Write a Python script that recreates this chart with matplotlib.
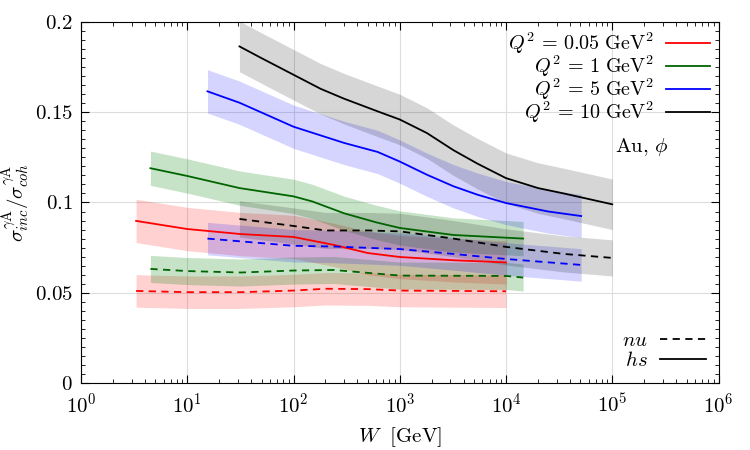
import matplotlib
matplotlib.use("Agg")
import matplotlib.pyplot as plt
from matplotlib.ticker import FuncFormatter, MultipleLocator, LogLocator
from matplotlib.lines import Line2D

plt.rcParams['font.family'] = 'cmr10'
plt.rcParams['mathtext.fontset'] = 'cm'
plt.rcParams['axes.formatter.use_mathtext'] = True

# W [GeV] and ratio values
w_red_hs = [3.3, 10, 32, 100, 240, 500, 1000, 3200, 10000]
red_hs = [0.0898, 0.0853, 0.0825, 0.0809, 0.0765, 0.0720, 0.0698, 0.0680, 0.0668]
w_red_nu = [3.3, 10, 32, 100, 200, 500, 1000, 3200, 10000]
red_nu = [0.0510, 0.0503, 0.0503, 0.0512, 0.0522, 0.0520, 0.0512, 0.0510, 0.0508]

w_green_hs = [4.5, 10, 31, 100, 150, 300, 600, 1000, 3200, 10000, 14500]
green_hs = [0.1190, 0.1147, 0.1080, 0.1034, 0.1006, 0.0940, 0.0890, 0.0859, 0.0820, 0.0805, 0.0800]
w_green_nu = [4.5, 10, 32, 100, 240, 1000, 3200, 10000, 14500]
green_nu = [0.0632, 0.0620, 0.0612, 0.0623, 0.0626, 0.0595, 0.0594, 0.0593, 0.0584]

w_blue_hs = [15.5, 31, 100, 300, 620, 1000, 1800, 3200, 5400, 10000, 25000, 51000]
blue_hs = [0.1616, 0.1553, 0.1420, 0.1330, 0.1280, 0.1227, 0.1154, 0.1090, 0.1043, 0.0997,
           0.0950, 0.0925]
w_blue_nu = [15.5, 100, 240, 1000, 3200, 10000, 51000]
blue_nu = [0.0800, 0.0760, 0.0756, 0.0742, 0.0715, 0.0687, 0.0654]

w_black_hs = [31, 50, 100, 180, 300, 620, 1000, 1800, 3200, 5400, 10000, 20000, 35000, 100000]
black_hs = [0.1865, 0.1800, 0.1708, 0.1630, 0.1575, 0.1505, 0.1460, 0.1385, 0.1290, 0.1215,
            0.1135, 0.1080, 0.1050, 0.0990]
w_black_nu = [31, 100, 200, 500, 1000, 3200, 10000, 35000, 100000]
black_nu = [0.0909, 0.0870, 0.0845, 0.0845, 0.0840, 0.0800, 0.0754, 0.0715, 0.0693]

# half widths of the uncertainty bands
band_hs = [0.012, 0.0095, 0.012, 0.014]
band_nu = [0.009, 0.0075, 0.009, 0.010]

labels = [r'$Q^2\,=\,0.05\ \mathrm{GeV}^2$', r'$Q^2\,=\,1\ \mathrm{GeV}^2$',
          r'$Q^2\,=\,5\ \mathrm{GeV}^2$', r'$Q^2\,=\,10\ \mathrm{GeV}^2$']
line_colors = ['#ff0000', '#006400', '#0000ff', '#000000']
band_colors = ['#ff0000', '#008000', '#0000ff', '#000000']
band_alpha = [0.18, 0.22, 0.17, 0.16]

hs_sets = [(w_red_hs, red_hs), (w_green_hs, green_hs), (w_blue_hs, blue_hs), (w_black_hs, black_hs)]
nu_sets = [(w_red_nu, red_nu), (w_green_nu, green_nu), (w_blue_nu, blue_nu), (w_black_nu, black_nu)]

fs = 15

fig, ax = plt.subplots(figsize=(7.5, 4.5), dpi=100)
fig.subplots_adjust(left=0.108, right=0.958, bottom=0.149, top=0.951)

handles = []
for i in range(4):
    w, v = hs_sets[i]
    ax.fill_between(w, [a - band_hs[i] for a in v], [a + band_hs[i] for a in v],
                    color=band_colors[i], alpha=band_alpha[i], lw=0)
    w, v = nu_sets[i]
    ax.fill_between(w, [a - band_nu[i] for a in v], [a + band_nu[i] for a in v],
                    color=band_colors[i], alpha=band_alpha[i], lw=0)

for i in range(4):
    w, v = hs_sets[i]
    h, = ax.plot(w, v, color=line_colors[i], lw=1.3, label=labels[i])
    handles.append(h)
    w, v = nu_sets[i]
    ax.plot(w, v, color=line_colors[i], lw=1.3, dashes=(4, 3))

ax.set_xscale('log')
ax.set_xlim(1, 1e6)
ax.set_ylim(0, 0.2)
ax.xaxis.set_major_locator(LogLocator(base=10, numticks=10))
ax.xaxis.set_minor_locator(LogLocator(base=10, subs=range(2, 10), numticks=10))
ax.yaxis.set_major_locator(MultipleLocator(0.05))
ax.yaxis.set_minor_locator(MultipleLocator(0.005))
ax.yaxis.set_major_formatter(FuncFormatter(lambda y, p: '$%g$' % round(y, 3)))
ax.tick_params(which='both', direction='in', top=True, right=True, labelsize=fs)
ax.tick_params(which='major', length=6, width=0.8)
ax.tick_params(which='minor', length=3, width=0.6)
ax.tick_params(axis='x', pad=7)
ax.tick_params(axis='y', pad=6)
ax.grid(True, which='major', color='#dddddd', lw=0.8)
ax.set_axisbelow(True)

ax.set_xlabel(r'$W\ \ [\mathrm{GeV}]$', fontsize=fs, labelpad=6)
ax.set_ylabel(r'$\sigma_{inc}^{\gamma \mathrm{A}}/\sigma_{coh}^{\gamma \mathrm{A}}$', fontsize=fs,
              labelpad=2)

leg1 = ax.legend(handles=handles, loc='upper right', frameon=False, markerfirst=False,
                 fontsize=14.5, handlelength=2.2, labelspacing=-0.12, borderaxespad=0.1,
                 handletextpad=0.6, borderpad=0.3)
ax.add_artist(leg1)
style_handles = [Line2D([], [], color='k', lw=1.3, dashes=(4, 3)),
                 Line2D([], [], color='k', lw=1.3)]
ax.legend(handles=style_handles, labels=[r'$nu$', r'$hs$'], loc='lower right',
          frameon=False, markerfirst=False, fontsize=fs, handlelength=2.2,
          labelspacing=0.05, borderaxespad=0.3, handletextpad=0.6, borderpad=0.3)

ax.text(1.05e5, 0.131, r'Au, $\phi$', fontsize=fs, va='center')

fig.savefig('out.png', dpi=100)
